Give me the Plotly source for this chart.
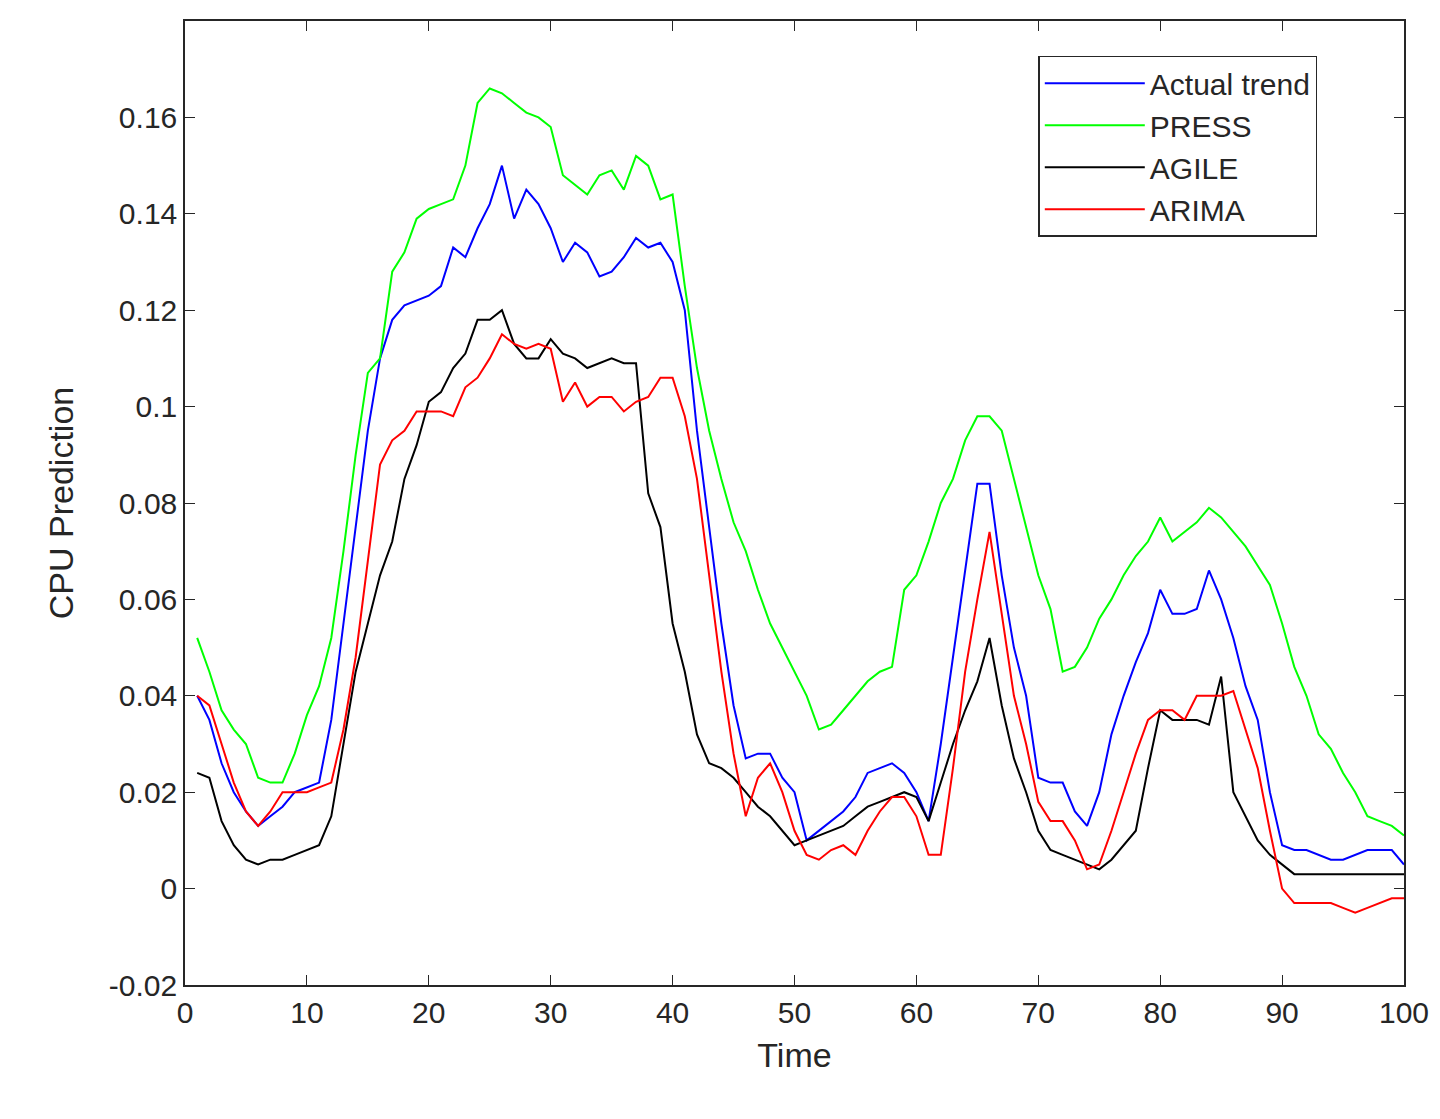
import plotly.graph_objects as go

time = list(range(1, 101))

actual = [0.040, 0.035, 0.026, 0.020, 0.016, 0.013, 0.015, 0.017, 0.020, 0.021,
          0.022, 0.035, 0.055, 0.075, 0.095, 0.110, 0.118, 0.121, 0.122, 0.123,
          0.125, 0.133, 0.131, 0.137, 0.142, 0.150, 0.139, 0.145, 0.142, 0.137,
          0.130, 0.134, 0.132, 0.127, 0.128, 0.131, 0.135, 0.133, 0.134, 0.130,
          0.120, 0.095, 0.075, 0.055, 0.038, 0.027, 0.028, 0.028, 0.023, 0.020,
          0.010, 0.012, 0.014, 0.016, 0.019, 0.024, 0.025, 0.026, 0.024, 0.020,
          0.014, 0.030, 0.048, 0.066, 0.084, 0.084, 0.065, 0.050, 0.040, 0.023,
          0.022, 0.022, 0.016, 0.013, 0.020, 0.032, 0.040, 0.047, 0.053, 0.062,
          0.057, 0.057, 0.058, 0.066, 0.060, 0.052, 0.042, 0.035, 0.020, 0.009,
          0.008, 0.008, 0.007, 0.006, 0.006, 0.007, 0.008, 0.008, 0.008, 0.005]

press = [0.052, 0.045, 0.037, 0.033, 0.030, 0.023, 0.022, 0.022, 0.028, 0.036,
         0.042, 0.052, 0.070, 0.090, 0.107, 0.110, 0.128, 0.132, 0.139, 0.141,
         0.142, 0.143, 0.150, 0.163, 0.166, 0.165, 0.163, 0.161, 0.160, 0.158,
         0.148, 0.146, 0.144, 0.148, 0.149, 0.145, 0.152, 0.150, 0.143, 0.144,
         0.125, 0.108, 0.095, 0.085, 0.076, 0.070, 0.062, 0.055, 0.050, 0.045,
         0.040, 0.033, 0.034, 0.037, 0.040, 0.043, 0.045, 0.046, 0.062, 0.065,
         0.072, 0.080, 0.085, 0.093, 0.098, 0.098, 0.095, 0.085, 0.075, 0.065,
         0.058, 0.045, 0.046, 0.050, 0.056, 0.060, 0.065, 0.069, 0.072, 0.077,
         0.072, 0.074, 0.076, 0.079, 0.077, 0.074, 0.071, 0.067, 0.063, 0.055,
         0.046, 0.040, 0.032, 0.029, 0.024, 0.020, 0.015, 0.014, 0.013, 0.011]

agile = [0.024, 0.023, 0.014, 0.009, 0.006, 0.005, 0.006, 0.006, 0.007, 0.008,
         0.009, 0.015, 0.030, 0.045, 0.055, 0.065, 0.072, 0.085, 0.092, 0.101,
         0.103, 0.108, 0.111, 0.118, 0.118, 0.120, 0.113, 0.110, 0.110, 0.114,
         0.111, 0.110, 0.108, 0.109, 0.110, 0.109, 0.109, 0.082, 0.075, 0.055,
         0.045, 0.032, 0.026, 0.025, 0.023, 0.020, 0.017, 0.015, 0.012, 0.009,
         0.010, 0.011, 0.012, 0.013, 0.015, 0.017, 0.018, 0.019, 0.020, 0.019,
         0.014, 0.022, 0.030, 0.037, 0.043, 0.052, 0.038, 0.027, 0.020, 0.012,
         0.008, 0.007, 0.006, 0.005, 0.004, 0.006, 0.009, 0.012, 0.025, 0.037,
         0.035, 0.035, 0.035, 0.034, 0.044, 0.020, 0.015, 0.010, 0.007, 0.005,
         0.003, 0.003, 0.003, 0.003, 0.003, 0.003, 0.003, 0.003, 0.003, 0.003]

arima = [0.040, 0.038, 0.030, 0.022, 0.016, 0.013, 0.016, 0.020, 0.020, 0.020,
         0.021, 0.022, 0.033, 0.048, 0.068, 0.088, 0.093, 0.095, 0.099, 0.099,
         0.099, 0.098, 0.104, 0.106, 0.110, 0.115, 0.113, 0.112, 0.113, 0.112,
         0.101, 0.105, 0.100, 0.102, 0.102, 0.099, 0.101, 0.102, 0.106, 0.106,
         0.098, 0.085, 0.065, 0.045, 0.028, 0.015, 0.023, 0.026, 0.020, 0.012,
         0.007, 0.006, 0.008, 0.009, 0.007, 0.012, 0.016, 0.019, 0.019, 0.015,
         0.007, 0.007, 0.025, 0.045, 0.060, 0.074, 0.057, 0.040, 0.030, 0.018,
         0.014, 0.014, 0.010, 0.004, 0.005, 0.012, 0.020, 0.028, 0.035, 0.037,
         0.037, 0.035, 0.040, 0.040, 0.040, 0.041, 0.033, 0.025, 0.012, 0.000,
         -0.003, -0.003, -0.003, -0.003, -0.004, -0.005, -0.004, -0.003, -0.002, -0.002]

y_ticks = [-0.02, 0, 0.02, 0.04, 0.06, 0.08, 0.1, 0.12, 0.14, 0.16, 0.18]
y_labels = ["-0.02", "0", "0.02", "0.04", "0.06", "0.08", "0.1", "0.12", "0.14", "0.16", "0.18"]

series = [("Actual trend", actual, "#0000ff"),
          ("PRESS", press, "#00ff00"),
          ("AGILE", agile, "#000000"),
          ("ARIMA", arima, "#ff0000")]

fig = go.Figure()
for name, vals, col in series:
    fig.add_trace(go.Scatter(x=time, y=vals, mode="lines", name=name,
                             line=dict(color=col, width=2)))

axis_style = dict(showgrid=False, zeroline=False, showline=True, mirror="ticks",
                  linecolor="#262626", linewidth=1.5, ticks="inside", ticklen=10,
                  tickcolor="#262626", tickfont=dict(size=30, color="#262626"))

fig.update_layout(
    width=1440, height=1119,
    margin=dict(l=177, r=44, t=11, b=142),
    paper_bgcolor="white", plot_bgcolor="white",
    font=dict(family="Liberation Sans, Arial", color="#262626"),
    showlegend=True,
    legend=dict(x=0.7, y=0.964, xanchor="left", yanchor="top",
                bordercolor="#262626", borderwidth=1.5, bgcolor="white",
                font=dict(size=30, color="#262626"), itemwidth=100,
                tracegroupgap=8),
    xaxis=dict(range=[0, 100], dtick=10,
               title=dict(text="Time", font=dict(size=34), standoff=15), **axis_style),
    yaxis=dict(range=[-0.02, 0.18], tickvals=y_ticks, ticktext=y_labels,
               title=dict(text="CPU Prediction", font=dict(size=34), standoff=25), **axis_style),
)

fig.write_html("out.html")
